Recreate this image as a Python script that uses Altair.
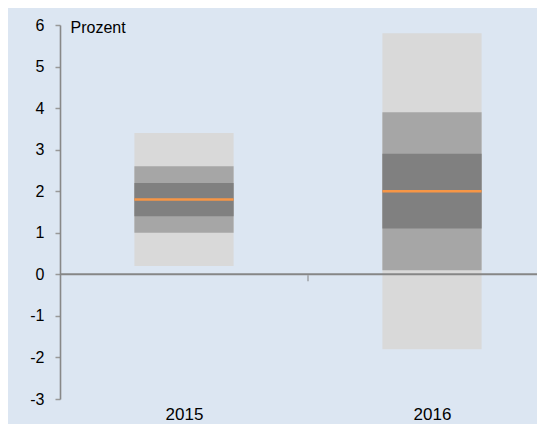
import altair as alt
import pandas as pd

# ---- data ----
years = ["2015", "2016"]
median = [1.8, 2.0]
band90_lo = [0.2, -1.8]
band90_hi = [3.4, 5.8]
band60_lo = [1.0, 0.1]
band60_hi = [2.6, 3.9]
band30_lo = [1.4, 1.1]
band30_hi = [2.2, 2.9]
y_ticks = [-3, -2, -1, 0, 1, 2, 3, 4, 5, 6]

rows = []
for name, lo, hi in [("90", band90_lo, band90_hi), ("60", band60_lo, band60_hi), ("30", band30_lo, band30_hi)]:
    for i, yr in enumerate(years):
        rows.append({"year": yr, "pos": i + 0.5, "band": name, "lo": lo[i], "hi": hi[i]})
bands = pd.DataFrame(rows)
med = pd.DataFrame({"year": years, "pos": [i + 0.5 for i in range(len(years))], "median": median})
zero = pd.DataFrame({"y": [0], "x": [1.0]})

W, H = 477, 374
step = 248.0
xdom = [0, W / step]
xscale = alt.Scale(domain=xdom, nice=False, zero=False)
yscale = alt.Scale(domain=[-3, 6], nice=False)

font = "Liberation Sans"

xaxis = alt.Axis(values=[0.5, 1.5], labelExpr="datum.value < 1 ? '2015' : '2016'",
                 domain=False, ticks=False, tickSize=0, grid=False, labelPadding=7,
                 labelFontSize=17, labelFont=font, labelColor="#000000", title=None)
yaxis = alt.Axis(values=y_ticks, labelExpr="datum.value + ''", grid=False,
                 domainColor="#888888", domainWidth=1.6,
                 tickColor="#999999", tickWidth=1.5, tickSize=5, labelPadding=11,
                 labelFontSize=16, labelFont=font, labelColor="#000000",
                 title="Prozent", titleAngle=0, titleAlign="left", titleBaseline="middle",
                 titleX=10, titleY=2, titleFontSize=16, titleFont=font,
                 titleFontWeight="normal", titleColor="#000000")

bars = alt.Chart(bands).transform_calculate(
    x1="datum.pos - 0.2", x2="datum.pos + 0.2"
).mark_bar().encode(
    x=alt.X("x1:Q", scale=xscale, axis=xaxis),
    x2="x2:Q",
    y=alt.Y("lo:Q", scale=yscale, axis=yaxis),
    y2="hi:Q",
    color=alt.Color("band:N", scale=alt.Scale(domain=["90", "60", "30"],
                                              range=["#d9d9d9", "#a6a6a6", "#808080"]), legend=None),
)

zero_line = alt.Chart(zero).mark_rule(color="#868686", strokeWidth=2).encode(y="y:Q")
mid_tick = alt.Chart(zero).mark_tick(orient="vertical", color="#888888", size=6,
                                     thickness=1.5, yOffset=4).encode(x="x:Q", y="y:Q")

med_line = alt.Chart(med).transform_calculate(
    x1="datum.pos - 0.2", x2="datum.pos + 0.2"
).mark_rule(color="#f79646", strokeWidth=2.5).encode(
    x="x1:Q", x2="x2:Q", y="median:Q"
)

chart = alt.layer(bars, zero_line, mid_tick, med_line).properties(
    width=W, height=H,
    autosize=alt.AutoSizeParams(type="none"),
    padding={"left": 52, "top": 17, "right": 0, "bottom": 25},
    background="#dce6f2",
).configure_view(stroke=None, fill="#dce6f2")

chart.save("out.html", embed_options={"renderer": "svg", "actions": False})
